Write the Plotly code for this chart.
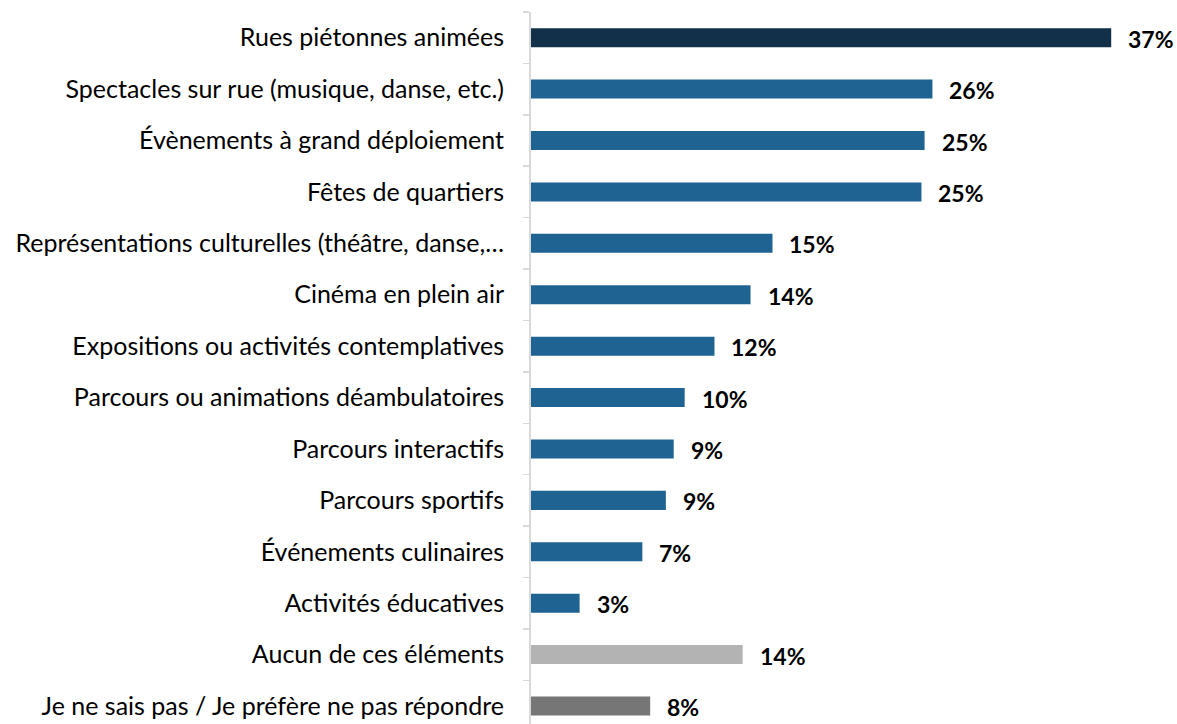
import plotly.graph_objects as go

categories = [
    "Rues piétonnes animées",
    "Spectacles sur rue (musique, danse, etc.)",
    "Évènements à grand déploiement",
    "Fêtes de quartiers",
    "Représentations culturelles (théâtre, danse,…",
    "Cinéma en plein air",
    "Expositions ou activités contemplatives",
    "Parcours ou animations déambulatoires",
    "Parcours interactifs",
    "Parcours sportifs",
    "Événements culinaires",
    "Activités éducatives",
    "Aucun de ces éléments",
    "Je ne sais pas / Je préfère ne pas répondre",
]
values = [37.0, 25.6, 25.1, 24.9, 15.4, 14.0, 11.7, 9.8, 9.1, 8.6, 7.1, 3.1, 13.5, 7.6]
labels = ["37%", "26%", "25%", "25%", "15%", "14%", "12%", "10%", "9%", "9%", "7%", "3%", "14%", "8%"]
colors = ["#12304A"] + ["#1F6393"] * 11 + ["#B3B3B3", "#767676"]

FONT = "Lato"

fig = go.Figure()
fig.add_trace(go.Bar(
    x=values, y=categories, orientation="h",
    marker=dict(color=colors, line=dict(width=0)),
    width=0.37, hoverinfo="skip",
))
for c, v, t in zip(categories, values, labels):
    fig.add_annotation(x=v, y=c, text=f"<b>{t}</b>", showarrow=False,
                       xanchor="left", xshift=15, yshift=-1,
                       font=dict(family=FONT, size=23, color="#000000"))

fig.update_layout(
    width=1177, height=724,
    margin=dict(l=531, r=7, t=12, b=0),
    paper_bgcolor="white", plot_bgcolor="white",
    showlegend=False,
    xaxis=dict(range=[0, 40.75], visible=False),
    yaxis=dict(
        range=[13.35, -0.5], type="category",
        showline=True, linecolor="#D9D9D9", linewidth=2,
        ticks="outside", ticklen=6, tickcolor="#D9D9D9", tickwidth=1.5,
        tickson="boundaries", showgrid=False,
        ticklabelstandoff=20,
        tickfont=dict(family=FONT, size=25, color="#000000"),
    ),
)
fig.write_html(
    "out.html",
    config={"displayModeBar": False, "staticPlot": True},
    post_script="document.body.style.margin='0';document.body.style.overflow='hidden';",
)
